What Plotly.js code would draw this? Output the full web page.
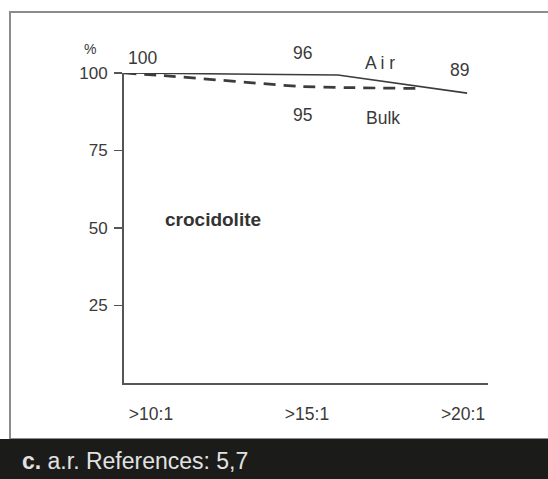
<!DOCTYPE html>
<html>
<head>
<meta charset="utf-8">
<script src="https://cdn.plot.ly/plotly-3.0.1.min.js"></script>
<style>
  html, body { margin: 0; padding: 0; background: #ffffff; }
  #chart { width: 548px; height: 479px; }
</style>
</head>
<body>
<div id="chart"></div>
<script>
// ---- data ----
const xTickVals = [10, 15, 20];
const xTickText = ['>10:1', '>15:1', '>20:1'];
const yTickVals = [25, 50, 75, 100];

const airX = [9.135, 15.99, 20.13];
const airY = [100, 99.35, 93.5];

const bulkX = [9.135, 10.6, 14.78, 16.22, 18.56];
const bulkY = [100, 99.0, 95.65, 95.3, 95.0];

const labelText = ['100', '96', '89', '95', 'A i r', 'Bulk'];
const labelX = [9.74, 14.84, 19.9, 14.84, 17.34, 17.44];
const labelY = [104.8, 106.5, 101.0, 86.5, 103.2, 85.5];

const mineral = 'crocidolite';
const caption = '<b>c.</b> a.r. References: 5,7';

// ---- layout helpers ----
const W = 548, H = 479;
const L = 124, R = 488, T = 73, B = 383;
const px = v => (v - L) / (R - L);
const py = v => (B - v) / (B - T);
const FONT = 'Liberation Sans, Arial, Helvetica, sans-serif';
const INK = '#3a3a3a';

const traces = [
  {
    x: airX, y: airY, type: 'scatter', mode: 'lines', name: 'Air',
    line: { color: '#3c3c3c', width: 1.6 }, cliponaxis: false, hoverinfo: 'skip'
  },
  {
    x: bulkX, y: bulkY, type: 'scatter', mode: 'lines', name: 'Bulk',
    line: { color: '#3c3c3c', width: 2.7, dash: '12px,8px', shape: 'spline', smoothing: 0.4 },
    cliponaxis: false, hoverinfo: 'skip'
  }
];

const annotations = labelText.map((t, i) => ({
  text: t, x: labelX[i], xref: 'x', y: labelY[i] / 100, yref: 'paper',
  showarrow: false, xanchor: 'center', yanchor: 'middle',
  font: { family: FONT, size: 17.5, color: INK }
}));
annotations.push({
  text: mineral, x: 10.38, xref: 'x', y: 0.529, yref: 'paper',
  showarrow: false, xanchor: 'left', yanchor: 'middle',
  font: { family: FONT, size: 19, color: '#333', weight: 'bold' }
});
annotations.push({
  text: '%', x: px(90), xref: 'paper', y: py(49), yref: 'paper',
  showarrow: false, xanchor: 'center', yanchor: 'middle',
  font: { family: FONT, size: 14, color: INK }
});
annotations.push({
  text: caption, x: px(20), xref: 'paper', y: py(461), yref: 'paper',
  showarrow: false, xanchor: 'left', yanchor: 'middle',
  font: { family: FONT, size: 23, color: '#e2e2e2' }
});

const shapes = [
  { type: 'rect', xref: 'paper', yref: 'paper', layer: 'below',
    x0: px(10), x1: px(620), y0: py(439), y1: py(12),
    line: { color: '#8c8c8c', width: 2 }, fillcolor: 'rgba(0,0,0,0)' },
  { type: 'rect', xref: 'paper', yref: 'paper', layer: 'below',
    x0: px(-20), x1: px(620), y0: py(490), y1: py(439),
    line: { width: 0 }, fillcolor: '#1b1b19' }
];

const layout = {
  width: W, height: H,
  margin: { l: L, r: W - R, t: T, b: H - B, pad: 0 },
  paper_bgcolor: '#ffffff', plot_bgcolor: '#ffffff',
  showlegend: false,
  font: { family: FONT, color: INK },
  xaxis: {
    range: [9.135, 20.8], tickvals: xTickVals, ticktext: xTickText,
    showgrid: false, zeroline: false, showline: true, linecolor: '#555', linewidth: 2,
    ticks: '', ticklabelstandoff: 14, tickfont: { family: FONT, size: 17.5, color: INK },
    fixedrange: true
  },
  yaxis: {
    range: [0, 100], tickvals: yTickVals, ticktext: yTickVals.map(String),
    showgrid: false, zeroline: false, showline: true, linecolor: '#555', linewidth: 2,
    ticks: 'outside', ticklen: 8, tickwidth: 1.5, tickcolor: '#555',
    ticklabelstandoff: 3, tickfont: { family: FONT, size: 17, color: INK },
    fixedrange: true
  },
  annotations: annotations,
  shapes: shapes
};

Plotly.newPlot('chart', traces, layout, { staticPlot: true, displayModeBar: false });
</script>
</body>
</html>
